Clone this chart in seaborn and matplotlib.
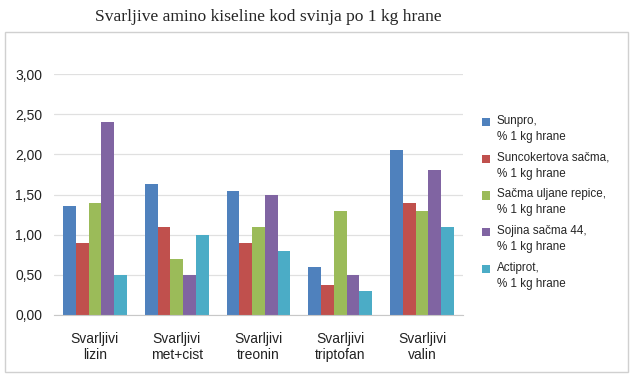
import pandas as pd
import seaborn as sns
import matplotlib.pyplot as plt
from matplotlib.patches import Rectangle

categories = ['Svarljivi\nlizin', 'Svarljivi\nmet+cist', 'Svarljivi\ntreonin',
              'Svarljivi\ntriptofan', 'Svarljivi\nvalin']
series = ['Sunpro,\n% 1 kg hrane', 'Suncokertova sačma,\n% 1 kg hrane',
          'Sačma uljane repice,\n% 1 kg hrane', 'Sojina sačma 44,\n% 1 kg hrane',
          'Actiprot,\n% 1 kg hrane']
sunpro = [1.36, 1.63, 1.54, 0.60, 2.06]
suncokret = [0.90, 1.09, 0.90, 0.37, 1.40]
repica = [1.40, 0.70, 1.10, 1.30, 1.30]
soja = [2.40, 0.50, 1.50, 0.50, 1.80]
actiprot = [0.50, 1.00, 0.80, 0.30, 1.10]
colors = ['#4F81BD', '#C0504D', '#9BBB59', '#8064A2', '#4BACC6']

rows = []
for name, vals in zip(series, [sunpro, suncokret, repica, soja, actiprot]):
    for cat, v in zip(categories, vals):
        rows.append({'Kategorija': cat, 'Serija': name, 'Vrijednost': v})
df = pd.DataFrame(rows)

sns.set_style('white')
plt.rcParams['font.family'] = ['Liberation Sans', 'DejaVu Sans']

fig = plt.figure(figsize=(6.33, 3.77), dpi=100)
ax = fig.add_axes([0.0853, 0.1645, 0.646, 0.639])

sns.barplot(data=df, x='Kategorija', y='Vrijednost', hue='Serija', palette=colors,
            width=0.78, saturation=1, ax=ax, errorbar=None, linewidth=0)

ax.set_ylim(0, 3)
ax.set_yticks([0, 0.5, 1, 1.5, 2, 2.5, 3])
ax.set_yticklabels([f'{t:.2f}'.replace('.', ',') for t in ax.get_yticks()])
ax.set_xlabel('')
ax.set_ylabel('')
ax.yaxis.grid(True, color='#e0e0e0', linewidth=0.9)
ax.set_axisbelow(True)
for s in ['left', 'right', 'top']:
    ax.spines[s].set_visible(False)
ax.spines['bottom'].set_color('#c8c8c8')
ax.tick_params(axis='both', length=0, labelsize=10, colors='#222222')
ax.tick_params(axis='y', pad=8.5)
ax.tick_params(axis='x', pad=12)

fs = 8.4
leg = ax.legend(loc='upper left', bbox_to_anchor=(1.02, 0.875), frameon=False,
                fontsize=fs, handlelength=0.7, handleheight=0.7, handletextpad=0.6,
                labelspacing=0.75)
for t in leg.get_texts():
    t.set_linespacing(1.45)

# move each colour square up to the first line of its label
fig.canvas.draw()
line_px = fs * fig.dpi / 72
for p, t in zip(leg.get_patches(), leg.get_texts()):
    tb = t.get_window_extent()
    pb = p.get_window_extent()
    first_line = tb.y1 - 0.62 * line_px
    dy = (first_line - (pb.y0 + pb.y1) / 2) * 72 / fig.dpi
    p.set_y(p.get_y() + dy)

# outer chart border
fig.patches.append(Rectangle((0.008, 0.013), 0.984, 0.902, transform=fig.transFigure,
                             fill=False, edgecolor='#d0d0d0', linewidth=1))

fig.text(0.424, 0.955, 'Svarljive amino kiseline kod svinja po 1 kg hrane',
         ha='center', va='center', fontsize=12.6, family=['Liberation Serif'])

plt.savefig('out.png', dpi=100)
